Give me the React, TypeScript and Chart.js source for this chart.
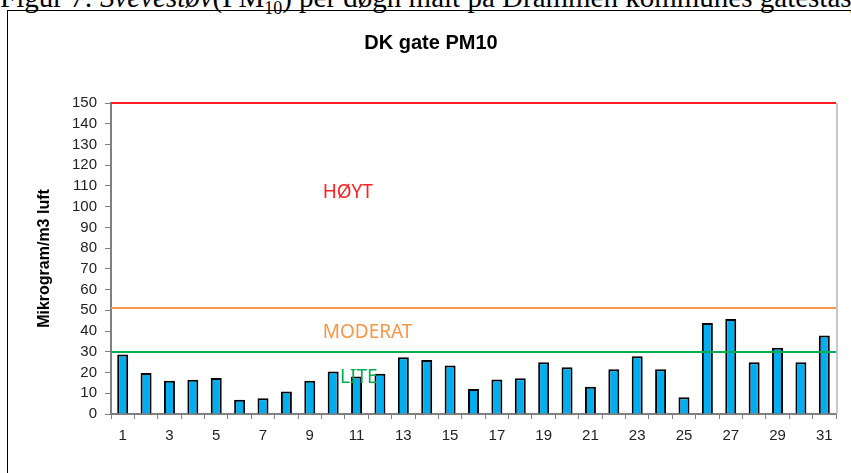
import React, { useEffect, useRef } from "react";
import { Chart, registerables } from "chart.js";

Chart.register(...registerables);

const DAYS = ["1","2","3","4","5","6","7","8","9","10","11","12","13","14","15","16","17","18","19","20","21","22","23","24","25","26","27","28","29","30","31"];
const PM10 = [28.7, 19.8, 16.0, 16.5, 17.4, 6.9, 7.6, 10.8, 16.0, 20.5, 18.1, 19.4, 27.4, 26.1, 23.4, 12.1, 16.6, 17.3, 25.0, 22.6, 13.1, 21.6, 27.9, 21.6, 8.1, 43.9, 45.8, 25.0, 31.9, 25.0, 37.9];
const THRESHOLDS = [150, 51, 30];
const THRESHOLD_COLORS = ["#ff1f1f", "#f79646", "#00b050"];
const ZONE_LABELS = ["HØYT", "MODERAT", "LITE"];
const ZONE_LABEL_VALUES = [107, 39.5, 17.5];
const ZONE_LABEL_COLORS = ["#ff1f1f", "#f79646", "#00b050"];
const Y_MIN = 0;
const Y_MAX = 150;
const Y_STEP = 10;
const TITLE = "DK gate PM10";
const Y_TITLE = "Mikrogram/m3 luft";

const overlay = {
  id: "overlay",
  afterDatasetsDraw(chart: any) {
    const { ctx, chartArea, scales } = chart;
    const { left, right, top, bottom } = chartArea;
    const y = scales.y;
    ctx.save();
    ctx.strokeStyle = "#c8c8c8";
    ctx.lineWidth = 2;
    ctx.beginPath();
    ctx.moveTo(right + 1, top);
    ctx.lineTo(right + 1, bottom);
    ctx.stroke();
    THRESHOLDS.forEach((v, i) => {
      const py = Math.round(y.getPixelForValue(v));
      ctx.strokeStyle = THRESHOLD_COLORS[i];
      ctx.lineWidth = 2;
      ctx.beginPath();
      ctx.moveTo(left, py);
      ctx.lineTo(right, py);
      ctx.stroke();
    });
    const xFrac = [0.292, 0.292, 0.316];
    ctx.font = "19px 'Noto Sans'";
    ctx.textBaseline = "middle";
    ctx.textAlign = "left";
    ZONE_LABELS.forEach((t, i) => {
      ctx.fillStyle = ZONE_LABEL_COLORS[i];
      ctx.fillText(t, left + xFrac[i] * (right - left), y.getPixelForValue(ZONE_LABEL_VALUES[i]));
    });
    ctx.restore();
  },
  afterDraw(chart: any) {
    const { ctx, chartArea } = chart;
    ctx.save();
    ctx.fillStyle = "#000";
    ctx.font = "bold 20px 'Liberation Sans', Arial";
    ctx.textAlign = "center";
    ctx.textBaseline = "middle";
    ctx.fillText(TITLE, 431, 43);
    ctx.translate(45, (chartArea.top + chartArea.bottom) / 2);
    ctx.rotate(-Math.PI / 2);
    ctx.font = "bold 16px 'Liberation Sans', Arial";
    ctx.fillText(Y_TITLE, 0, 0);
    ctx.restore();
  },
};

function PMChart() {
  const ref = useRef<HTMLCanvasElement | null>(null);
  useEffect(() => {
    if (!ref.current) return;
    const chart = new Chart(ref.current, {
      type: "bar",
      data: {
        labels: DAYS,
        datasets: [
          {
            data: PM10,
            backgroundColor: "#00aeef",
            borderColor: "#000000",
            borderWidth: 2,
            barPercentage: 0.47,
            categoryPercentage: 1,
          },
        ],
      },
      options: {
        responsive: false,
        animation: false,
        devicePixelRatio: 1,
        layout: { padding: { left: 0, right: 15, top: 103, bottom: 0 } },
        plugins: {
          legend: { display: false },
          title: { display: false },
          tooltip: { enabled: false },
        },
        scales: {
          x: {
            afterFit: (s: any) => {
              s.height = 59;
            },
            grid: {
              display: true,
              drawOnChartArea: false,
              drawTicks: true,
              tickLength: 5,
              offset: true,
              color: "#808080",
              lineWidth: 1,
            },
            border: { display: true, color: "#808080", width: 2 },
            ticks: {
              autoSkip: false,
              maxRotation: 0,
              padding: 8,
              color: "#222",
              font: { family: "'Liberation Sans', Arial", size: 15 },
              callback: (_v: any, i: number) => (i % 2 === 0 ? DAYS[i] : ""),
            },
          },
          y: {
            min: Y_MIN,
            max: Y_MAX,
            afterFit: (s: any) => {
              s.width = 111;
            },
            grid: {
              display: true,
              drawOnChartArea: false,
              drawTicks: true,
              tickLength: 6,
              color: "#808080",
              lineWidth: 1,
            },
            border: { display: true, color: "#808080", width: 2 },
            ticks: {
              stepSize: Y_STEP,
              autoSkip: false,
              padding: 8,
              color: "#222",
              font: { family: "'Liberation Sans', Arial", size: 15 },
            },
          },
        },
      },
      plugins: [overlay],
    });
    return () => chart.destroy();
  }, []);
  return (
    <canvas
      ref={ref}
      width={851}
      height={473}
      style={{ position: "absolute", left: 0, top: 0, width: 851, height: 473 }}
    />
  );
}

export default function App() {
  return (
    <div
      style={{
        position: "fixed",
        left: 0,
        top: 0,
        width: 851,
        height: 473,
        overflow: "hidden",
        background: "#fff",
      }}
    >
      <div
        style={{
          position: "absolute",
          left: 0,
          top: -19,
          whiteSpace: "nowrap",
          fontFamily: "'Liberation Serif', 'Times New Roman', serif",
          fontSize: 29,
          color: "#000",
        }}
      >
        Figur 7: <i>Svevestøv</i>(PM<sub style={{ fontSize: 18 }}>10</sub>) per døgn målt på Drammen kommunes gatestasjon
      </div>
      <div
        style={{
          position: "absolute",
          left: 7,
          top: 10,
          width: 900,
          height: 500,
          border: "1px solid #000",
        }}
      />
      <PMChart />
    </div>
  );
}
